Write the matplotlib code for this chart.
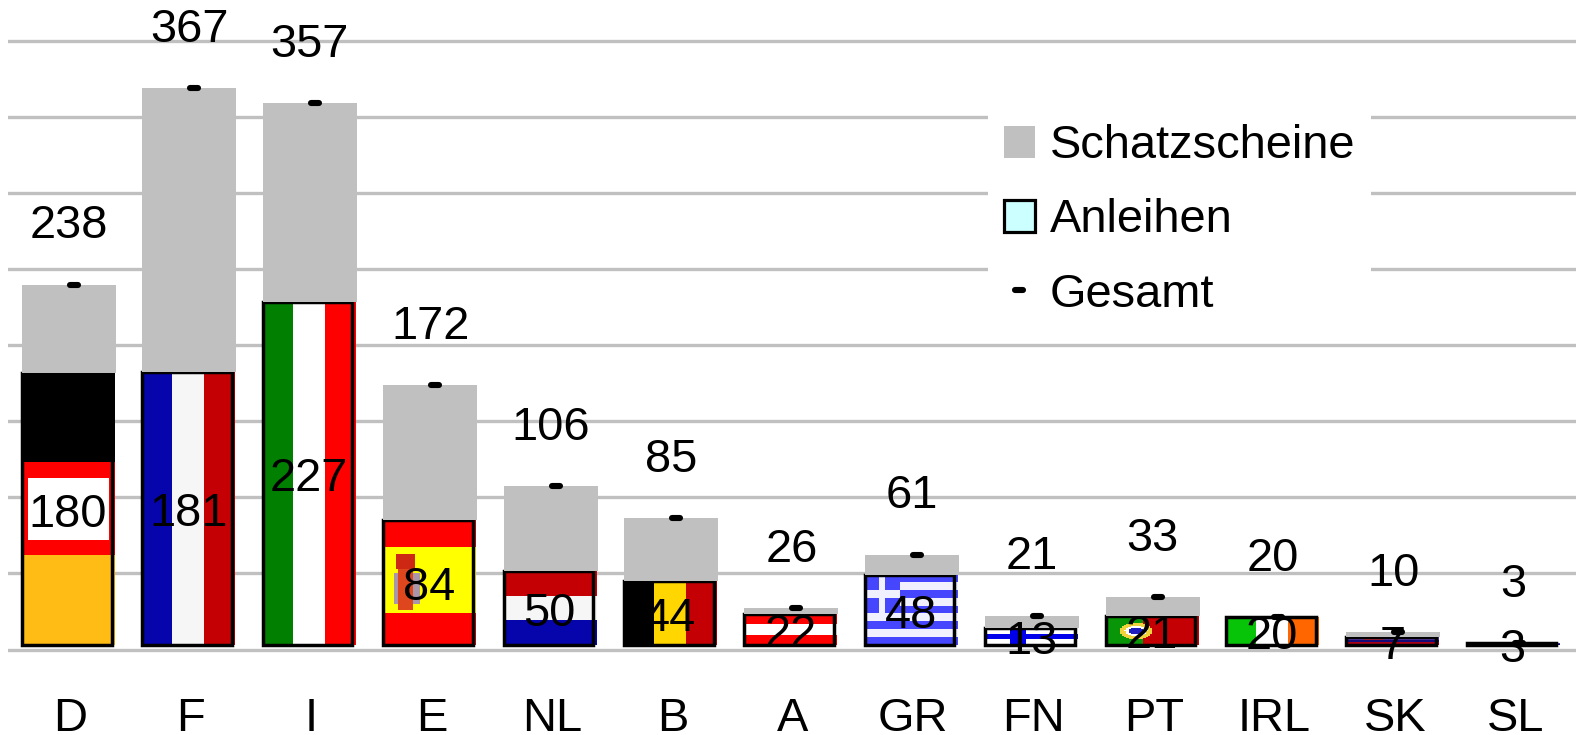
import numpy as np
import matplotlib
matplotlib.use("Agg")
import matplotlib.pyplot as plt
from matplotlib.patches import Patch
from matplotlib.lines import Line2D
from matplotlib.markers import MarkerStyle

plt.rcParams['font.family'] = ['Liberation Sans', 'DejaVu Sans']

countries = ["D", "F", "I", "E", "NL", "B", "A", "GR", "FN", "PT", "IRL", "SK", "SL"]
anleihen = [180, 181, 227, 84, 50, 44, 22, 48, 13, 21, 20, 7, 3]
schatzscheine = [58, 186, 130, 88, 56, 41, 4, 13, 8, 12, 0, 3, 0]
gesamt = [238, 367, 357, 172, 106, 85, 26, 61, 21, 33, 20, 10, 3]

W, H = 1579, 735
PX_X0, PX_DX = 69.0, 120.4     # centre of first bar, bar pitch
PX_Y0, PX_DY = 647.7, 1.525    # y of value 0, px per unit
FS = 33.8
GREY = "#c0c0c0"


def stripes_h(*cols, weights=None):
    weights = weights or [1] * len(cols)
    rows = []
    for c, w in zip(cols, weights):
        rows += [c] * w
    return np.array(rows, dtype=float)[:, None, :] / 255


def stripes_v(*cols):
    return np.array(cols, dtype=float)[None, :, :] / 255


BLACK, WHITE, OFFW = (0, 0, 0), (255, 255, 255), (246, 246, 246)
RED, DRED, NAVY = (255, 0, 0), (196, 0, 4), (5, 5, 171)
YEL = (255, 255, 0)


def germany():
    a = np.zeros((272, 94, 3))
    a[89:182] = RED
    a[182:] = (255, 188, 20)
    a[105:167, 7:88] = WHITE
    return a / 255


def spain():
    a = np.zeros((40, 40, 3))
    a[:] = RED
    a[9:30] = YEL
    a[16:29, 7:13] = (222, 70, 30)
    a[11:16, 6:14] = (205, 40, 20)
    a[17:27, 5:7] = (170, 150, 170)
    a[17:27, 13:16] = (170, 150, 170)
    return a / 255


def greece():
    blue, white = (70, 70, 255), (240, 240, 255)
    n = 9
    a = np.zeros((n * 3, 45, 3))
    for i in range(n):
        a[i * 3:(i + 1) * 3] = blue if i % 2 == 0 else white
    a[:15, :17] = blue
    a[6:9, :17] = white
    a[:15, 7:10] = white
    return a / 255


def finland():
    a = np.zeros((11, 18, 3))
    a[:] = WHITE
    a[4:7] = (0, 0, 235)
    a[:, 5:8] = (0, 0, 235)
    return a / 255


def portugal():
    a = np.zeros((30, 50, 3))
    yy, xx = np.mgrid[0:30, 0:50]
    a[:] = DRED
    a[:, :20] = (8, 150, 8)
    r = ((xx - 16) / 9.0) ** 2 + ((yy - 15) / 8.5) ** 2
    a[r < 1] = (240, 210, 60)
    a[r < 0.45] = WHITE
    a[r < 0.18] = (30, 30, 190)
    return a / 255


def slovakia():
    a = np.zeros((6, 30, 3))
    a[:] = (20, 10, 120)
    a[0:2] = (90, 60, 170)
    a[0:2, 6:12] = (190, 40, 60)
    a[4:6] = (170, 0, 20)
    return a / 255


flags = [
    germany(),
    stripes_v(NAVY, OFFW, DRED),
    stripes_v((0, 127, 0), WHITE, RED),
    spain(),
    stripes_h(DRED, OFFW, NAVY),
    stripes_v(BLACK, (255, 214, 0), DRED),
    stripes_h(RED, WHITE, RED),
    greece(),
    finland(),
    portugal(),
    stripes_v((8, 196, 8), WHITE, (255, 102, 0)),
    slovakia(),
    stripes_h((60, 60, 170), (10, 10, 100), (10, 10, 100)),
]

fig = plt.figure(figsize=(W / 100, H / 100), dpi=100, facecolor="white")


def rect(l, t, r, b):
    return [l / W, 1 - b / H, (r - l) / W, (b - t) / H]


# gridlines: own scale, 0 at 649.5 px and 50 units every 76.1 px
gax = fig.add_axes(rect(8, 20, 1576, 665), zorder=0)
gax.set_ylim((649.5 - 665) / 1.522, (649.5 - 20) / 1.522)
gax.set_yticks(range(0, 401, 50))
gax.set_xticks([])
gax.tick_params(left=False, labelleft=False)
gax.grid(axis="y", color=GREY, lw=2.4)
for s in gax.spines.values():
    s.set_visible(False)
gax.patch.set_visible(False)

ax = fig.add_axes(rect(0, 0, W, 650), zorder=1)
ax.patch.set_visible(False)
for s in ax.spines.values():
    s.set_visible(False)
ax.set_xlim((0 - PX_X0) / PX_DX, (W - PX_X0) / PX_DX)
ax.set_ylim((PX_Y0 - 650) / PX_DY, PX_Y0 / PX_DY)
ax.autoscale(False)

x = np.arange(len(countries))
bar_w = 94 / PX_DX
floor = 2.0
shift = -1.0 / PX_DX

for xi, v, f in zip(x, anleihen, flags):
    ax.imshow(f, extent=(xi + shift - bar_w / 2, xi + shift + bar_w / 2, floor, v),
              aspect="auto", interpolation="nearest", zorder=2)
ax.set_xlim((0 - PX_X0) / PX_DX, (W - PX_X0) / PX_DX)
ax.set_ylim((PX_Y0 - 650) / PX_DY, PX_Y0 / PX_DY)

vals = np.array(anleihen, dtype=float)
ax.bar(x - 2.2 / PX_DX, vals - floor, bottom=floor, width=89.5 / PX_DX,
       fill=False, edgecolor="black", linewidth=2.5, zorder=3)
ax.bar(x, schatzscheine, bottom=anleihen, width=bar_w, color=GREY, linewidth=0, zorder=4)

mk = MarkerStyle("_", capstyle="round")
ax.plot(x + 5 / PX_DX, gesamt, linestyle="none", marker=mk, markersize=5.5,
        markeredgewidth=4.4, color="black", zorder=5)

for xi, v, t in zip(x, anleihen, gesamt):
    ax.annotate(str(v), (xi - 1 / PX_DX, v / 2), xytext=(0, -3.2), textcoords="offset points",
                ha="center", va="center", fontsize=FS, zorder=6, annotation_clip=False)
    ax.annotate(str(t), (xi, t), xytext=(0, 42), textcoords="offset points",
                ha="center", va="center", fontsize=FS, zorder=6, annotation_clip=False)

ax.set_xticks(x + 1.5 / PX_DX)
ax.set_xticklabels(countries, fontsize=FS)
ax.tick_params(axis="x", length=0, pad=34)
ax.tick_params(axis="y", left=False, labelleft=False)

handles = [
    Patch(facecolor=GREY, edgecolor="none"),
    Patch(facecolor="#ccffff", edgecolor="black", linewidth=2.3),
    Line2D([], [], linestyle="none", marker=mk, markersize=5.5, markeredgewidth=4.4, color="black"),
]
leg = ax.legend(handles, ["Schatzscheine", "Anleihen", "Gesamt"], fontsize=FS,
                loc="center left", bbox_to_anchor=(988 / W, 1 - 220.5 / 650),
                frameon=True, facecolor="white", edgecolor="none", framealpha=1, fancybox=False,
                handlelength=0.66, handleheight=0.66, handletextpad=0.32,
                labelspacing=0.64, borderpad=0.34, borderaxespad=0)
leg.set_zorder(1)

fig.savefig("out.png", dpi=100)
